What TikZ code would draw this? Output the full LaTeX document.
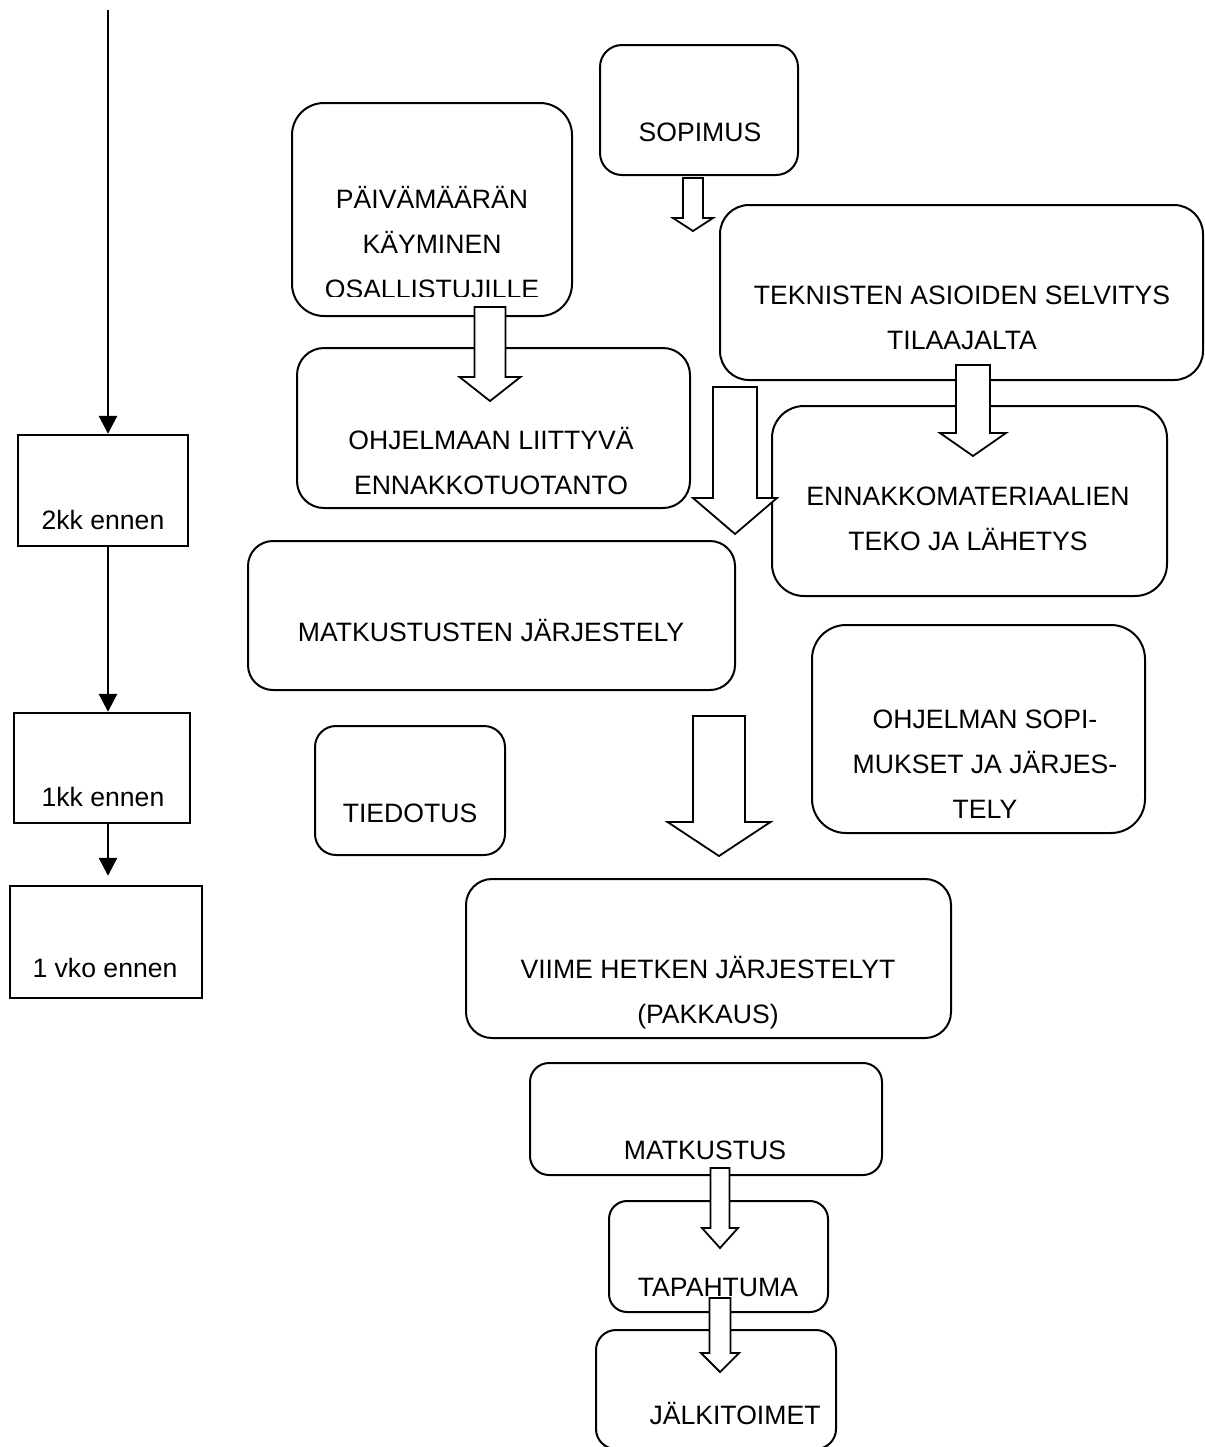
\documentclass[tikz,border=0pt]{standalone}
\usepackage{fontspec}
\setmainfont{Liberation Sans}
\usetikzlibrary{arrows.meta}

% hollow block arrow: x, top, tip, body half width, head half width, shoulder
\newcommand{\blockarrow}[6]{%
  \draw[bigarrow] (#1-#4,#2) -- (#1+#4,#2) -- (#1+#4,#6) -- (#1+#5,#6) -- (#1,#3)
    -- (#1-#5,#6) -- (#1-#4,#6) -- cycle;}

\begin{document}
\begin{tikzpicture}[x=0.5pt, y=-0.5pt,
        tbox/.style={rectangle, draw, line width=1.2pt, inner sep=0pt},
        rbox/.style={rectangle, draw, line width=1pt, rounded corners=#1, inner sep=0pt},
        txt/.style={font=\fontsize{13.3}{22.5}\selectfont, align=center, inner sep=0pt},
        timeline/.style={line width=1.4pt, -{Triangle[width=9pt,length=9pt]}},
        bigarrow/.style={draw, fill=white, line width=0.9pt, line join=miter},]

    \useasboundingbox (0,0) rectangle (1205,1447);

    % Time line
    \node[tbox, minimum width=85pt, minimum height=55.5pt] (kk2) at (103,490.5) {};
    \node[tbox, minimum width=88pt, minimum height=55pt]   (kk1) at (102,768)   {};
    \node[tbox, minimum width=96pt, minimum height=56pt]   (vko) at (106,942)   {};
    \node[txt] (t-kk2) at (103,520) {2kk ennen};
    \node[txt] (t-kk1) at (103,797) {1kk ennen};
    \node[txt] (t-vko) at (105,968) {1 vko ennen};
    \coordinate (start) at (108,10);
    \draw[timeline] (start) -- (start |- kk2.north);
    \draw[timeline] (kk2.south -| start) -- (kk1.north -| start);
    \draw[timeline, shorten >=4.5pt] (kk1.south -| start) -- (vko.north -| start);

    % Tasks
    \node[rbox=11pt,   minimum width=99pt,    minimum height=65pt]   (sopimus)  at (699,110)    {};
    \node[rbox=16pt,   minimum width=140pt,   minimum height=106.5pt] (paiva)   at (432,209.5)  {};
    \node[rbox=14.5pt, minimum width=241.5pt, minimum height=87.5pt] (tekn)     at (961.5,292.5) {};
    \node[rbox=13.5pt, minimum width=196.5pt, minimum height=80pt]   (ennprod)  at (493.5,428)  {};
    \node[rbox=16pt,   minimum width=197.5pt, minimum height=95pt]   (ennmat)   at (969.5,501)  {};
    \node[rbox=12.5pt, minimum width=243.5pt, minimum height=74.5pt] (matkjarj) at (491.5,615.5) {};
    \node[rbox=17pt,   minimum width=166.5pt, minimum height=104pt]  (ohjsop)   at (978.5,729)  {};
    \node[rbox=10.5pt, minimum width=95pt,    minimum height=64.5pt] (tiedotus) at (410,790.5)  {};
    \node[rbox=13pt,   minimum width=242.5pt, minimum height=79.5pt] (viime)    at (708.5,958.5) {};
    \node[rbox=9.5pt,  minimum width=176pt,   minimum height=56pt]   (matkustus) at (706,1119)  {};
    \node[rbox=9pt,    minimum width=109.5pt, minimum height=55.5pt] (tapahtuma) at (718.5,1256.5) {};
    \node[rbox=10pt,   minimum width=120pt,   minimum height=59.5pt] (jalki)    at (716,1389.5) {};

    % Texts
    \node[txt] (t-sopimus) at (700,132) {SOPIMUS};
    \begin{scope}
        \clip (292,103) rectangle (572,296);
        \node[txt] (t-paiva) at (432,242) {PÄIVÄMÄÄRÄN\\KÄYMINEN\\OSALLISTUJILLE};
    \end{scope}
    \node[txt] (t-tekn) at (962,318) {TEKNISTEN ASIOIDEN SELVITYS\\TILAAJALTA};
    \node[txt] (t-ennprod) at (491,460.5) {OHJELMAAN LIITTYVÄ\\ENNAKKOTUOTANTO};
    \node[txt] (t-ennmat) at (968,519) {ENNAKKOMATERIAALIEN\\TEKO JA LÄHETYS};
    \node[txt] (t-matkjarj) at (491,630) {MATKUSTUSTEN JÄRJESTELY};
    \node[txt] (t-ohjsop) at (985,764) {OHJELMAN SOPI-\\MUKSET JA JÄRJES-\\TELY};
    \node[txt] (t-tiedotus) at (410,813) {TIEDOTUS};
    \node[txt] (t-viime) at (708,993) {VIIME HETKEN JÄRJESTELYT\\(PAKKAUS)};
    \node[txt] (t-matkustus) at (705,1150) {MATKUSTUS};
    \node[txt] (t-tapahtuma) at (718,1287) {TAPAHTUMA};
    \node[txt] (t-jalki) at (735,1413) {JÄLKITOIMET};

    % Block arrows
    \blockarrow{693}{178}{231}{10}{20}{218}
    \blockarrow{490}{307}{401}{15.5}{30.5}{377}
    \blockarrow{735}{387}{534}{22}{42}{498}
    \blockarrow{973}{365}{456}{17}{33}{433}
    \blockarrow{719}{716}{856}{26}{51.5}{822}
    \blockarrow{720}{1168}{1248}{9.5}{18}{1228}
    \blockarrow{720}{1298}{1372}{10.5}{19}{1353}
\end{tikzpicture}
\end{document}
